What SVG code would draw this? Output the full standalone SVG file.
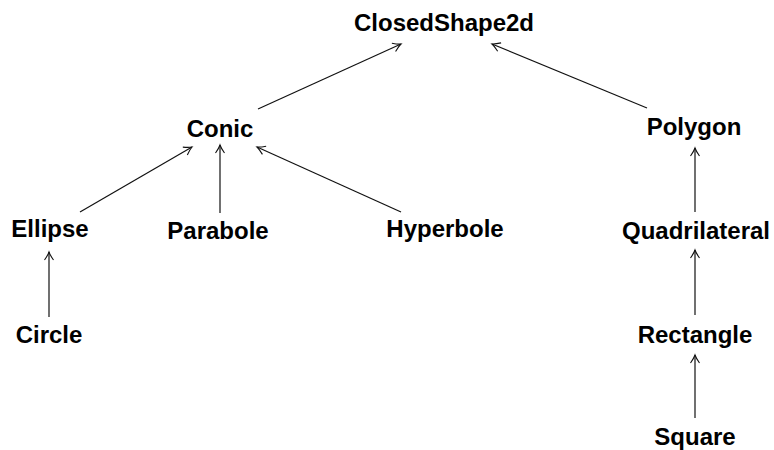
<svg xmlns="http://www.w3.org/2000/svg" width="774" height="450" viewBox="0 0 774 450">
<style>
text{font-family:"Liberation Sans",Arial,sans-serif;font-weight:bold;font-size:24px;fill:#000;text-anchor:middle}
.e{stroke:#111;stroke-width:1.2;fill:none;marker-end:url(#ah)}
</style>
<defs>
<marker id="ah" markerUnits="userSpaceOnUse" markerWidth="12" markerHeight="12" viewBox="-10 -6 12 12" refX="0" refY="0" orient="auto">
<path d="M-8,-4.5 Q-3,-1 0,0 Q-3,1 -8,4.5" fill="none" stroke="#111" stroke-width="1.1"/>
</marker>
</defs>
<rect width="774" height="450" fill="#fff"/>
<g id="connectors">
<line class="e" x1="258" y1="109" x2="401" y2="44"/>
<line class="e" x1="647" y1="108" x2="492" y2="44"/>
<line class="e" x1="80" y1="212" x2="192" y2="147"/>
<line class="e" x1="220" y1="213" x2="220" y2="145"/>
<line class="e" x1="401" y1="212" x2="257" y2="147"/>
<line class="e" x1="49" y1="317" x2="49" y2="252"/>
<line class="e" x1="695" y1="212" x2="695" y2="148"/>
<line class="e" x1="695" y1="315" x2="695" y2="250"/>
<line class="e" x1="695" y1="418" x2="695" y2="355"/>
</g>
<g id="ClosedShape2d"><text x="444" y="31">ClosedShape2d</text></g>
<g id="Conic"><text x="220" y="137">Conic</text></g>
<g id="Polygon"><text x="694" y="135">Polygon</text></g>
<g id="Ellipse"><text x="50" y="237">Ellipse</text></g>
<g id="Parabole"><text x="218" y="239">Parabole</text></g>
<g id="Hyperbole"><text x="445" y="237">Hyperbole</text></g>
<g id="Quadrilateral"><text x="696" y="239">Quadrilateral</text></g>
<g id="Circle"><text x="49" y="343">Circle</text></g>
<g id="Rectangle"><text x="695" y="343">Rectangle</text></g>
<g id="Square"><text x="695" y="445">Square</text></g>
</svg>
